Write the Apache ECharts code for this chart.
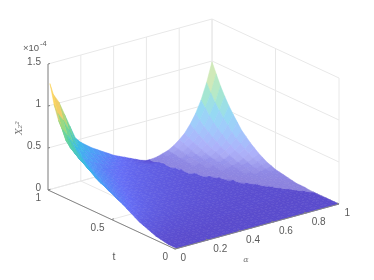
<!DOCTYPE html>
<html><head><meta charset="utf-8">
<style>html,body{margin:0;padding:0;background:#fff}#c{width:374px;height:280px}</style>
<script src="https://cdn.jsdelivr.net/npm/echarts@6/dist/echarts.min.js"></script>
</head><body><div id="c"></div>
<script>
// axis values
const tValues=[0,.033,.067,.1,.133,.167,.2,.233,.267,.3,.333,.367,.4,.433,.467,.5,.533,.567,.6,.633,.667,.7,.733,.767,.8,.833,.867,.9,.933,.967,1];
const alphaValues=[.012,.033,.067,.1,.133,.167,.2,.233,.267,.3,.333,.367,.4,.433,.467,.5,.533,.567,.6,.633,.667,.7,.733,.767,.8,.833,.867,.9,.933,.967,1];
// X values in units of 1e-6, one row per t, one column per alpha
const zRows=[
[0,0,0,0,0,0,0,0,0,0,0,0,0,0,0,0,0,0,0,0,0,0,0,0,0,0,0,0,0,0,0],
[0,0,0,0,0,0,0,0,0,0,0,0,0,0,0,0,0,0,0,0,0,0,0,0,0,0,0,0,0,0,0],
[0,0,0,0,0,0,0,0,0,0,0,0,0,0,0,0,0,0,0,0,0,0,0,0,0,0,0,0,0,0,0],
[1,1,1,1,0,0,0,0,0,0,0,0,0,0,0,0,0,0,0,0,0,0,0,0,0,0,0,0,0,0,0],
[2,2,1,1,1,1,1,1,1,0,0,0,0,0,0,0,0,0,0,0,0,0,0,0,0,0,0,0,0,0,0],
[3,2,2,2,1,1,1,1,1,1,1,1,1,0,0,0,0,0,0,0,0,0,0,0,0,0,0,0,0,0,0],
[5,4,3,3,2,2,2,2,1,1,1,1,1,1,1,1,1,1,1,1,0,0,0,0,0,0,0,0,0,0,0],
[7,6,5,4,3,3,2,2,2,2,2,1,1,1,1,1,1,1,1,1,1,1,1,1,1,0,0,0,0,0,0],
[9,7,6,5,4,4,3,3,2,2,2,2,2,1,1,1,1,1,1,1,1,1,1,1,1,1,1,1,0,0,1],
[11,9,7,6,5,4,4,3,3,3,2,2,2,2,2,2,1,1,1,1,1,1,1,1,1,1,1,1,0,1,1],
[14,11,9,8,7,6,5,4,4,3,3,3,3,2,2,2,2,2,2,1,1,1,1,1,1,1,1,0,1,1,1],
[17,14,11,9,8,7,6,5,5,4,4,3,3,3,3,2,2,2,2,2,2,1,1,1,1,1,1,1,1,1,2],
[20,16,13,11,9,8,7,6,6,5,4,4,4,3,3,3,3,2,2,2,2,2,2,2,1,1,1,1,1,2,3],
[23,19,15,13,11,9,8,7,6,6,5,5,4,4,3,3,3,3,2,2,2,2,2,2,2,2,1,2,2,3,4],
[26,21,17,14,12,11,9,8,7,6,6,5,5,4,4,4,3,3,3,3,2,2,2,2,2,1,2,2,3,4,5],
[29,23,19,16,14,12,10,9,8,7,6,6,5,5,4,4,4,3,3,3,3,3,2,2,1,1,2,3,4,5,6],
[32,26,21,18,15,13,11,10,9,8,7,6,6,5,5,4,4,4,3,3,3,3,3,3,1,2,3,3,5,6,8],
[35,28,23,19,17,14,12,11,10,9,8,7,6,6,5,5,4,4,4,4,3,3,3,1,2,2,3,4,6,8,10],
[38,31,25,21,18,15,13,12,10,9,8,8,7,6,6,5,5,4,4,4,4,3,3,2,2,3,4,6,7,10,13],
[41,33,27,23,19,17,15,13,11,10,9,8,7,7,6,6,5,5,4,4,4,4,2,2,3,4,5,7,9,12,16],
[45,36,30,25,21,18,16,14,12,11,10,9,8,7,7,6,6,5,5,5,4,2,2,2,3,5,6,8,11,15,20],
[49,40,32,27,23,20,17,15,13,12,11,10,9,8,7,7,6,6,5,5,5,2,2,3,4,6,8,10,14,18,24],
[53,43,35,30,25,22,19,16,15,13,12,10,10,9,8,7,7,6,6,5,2,2,2,3,5,7,9,12,16,22,29],
[58,47,38,32,27,24,21,18,16,14,13,11,10,10,9,8,7,7,6,6,2,2,3,4,6,8,11,15,20,26,34],
[62,50,41,35,29,25,22,19,17,15,14,12,11,10,9,8,8,7,7,6,2,3,3,5,7,9,13,17,23,31,41],
[67,54,44,37,32,27,24,21,18,16,15,13,12,11,10,9,8,8,7,3,2,3,4,6,8,11,15,21,28,37,48],
[72,58,48,40,34,29,25,22,20,18,16,14,13,12,11,10,9,8,8,3,2,3,5,7,9,13,18,24,32,43,56],
[78,64,54,46,39,34,29,26,23,20,18,16,14,13,11,10,9,8,7,3,3,4,5,8,11,15,21,28,37,50,65],
[87,76,66,56,47,40,34,30,26,23,20,18,16,14,12,10,8,6,5,3,3,5,6,9,13,17,24,32,43,57,75],
[103,92,82,69,56,46,39,34,30,27,23,20,17,15,13,10,8,5,3,3,4,5,7,10,15,20,28,37,50,66,87],
[126,112,101,85,69,53,46,41,36,32,28,24,20,17,14,11,8,5,3,3,4,6,8,12,17,23,32,43,57,76,99]
];
// alpha of the valley crease for each t row (above 1: no crease in that row)
const creaseAlpha=[1.1,1.1,1.1,1.1,1.1,1.1,.995,.975,.95,.93,.905,.88,.855,.83,.81,.785,.77,.755,.738,.71,.685,.665,.647,.636,.626,.615,.612,.61,.612,.615,.62];
const zTicks=[0,.5,1,1.5], zTickLabels=['0','0.5','1','1.5'];
const tTicks=[0,.5,1], tTickLabels=['0','0.5','1'];
const alphaTicks=[0,.2,.4,.6,.8,1], alphaTickLabels=['0','0.2','0.4','0.6','0.8','1'];
const parula=[[58,40,195],[72,82,244],[46,135,247],[22,172,228],[56,200,152],[130,210,105],[235,195,75],[253,205,60],[249,251,14]];

// oblique 3D view: alpha, t, z (1e-4) to canvas units
function proj(a,t,z){return [175+164*a-127*t, 249-45*a-59*t-84*z];}
function pal(z){const v=Math.min(1,Math.max(0,z/1.26))*(parula.length-1),k=Math.min(parula.length-2,Math.floor(v)),f=v-k;
 return parula[k].map((c,n)=>c+(parula[k+1][n]-c)*f);}
function mix(c,o){return 'rgb('+c.map(x=>Math.round(255+(x-255)*o)).join(',')+')';}

const cells=[];
for(let i=zRows.length-2;i>=0;i--)for(let j=alphaValues.length-2;j>=0;j--)cells.push([i,j]);

const gridCol='#e8e8e8', axisCol='#858585', textCol='#5a5a5a';
const lines=[];
function seg(a,b,col,w){lines.push({a,b,col,w});}
zTicks.forEach(z=>{seg(proj(0,1,z),proj(1,1,z),gridCol,1);seg(proj(1,1,z),proj(1,0,z),gridCol,1);});
alphaTicks.forEach(a=>{seg(proj(a,1,0),proj(a,1,1.5),gridCol,1);seg(proj(a,1,0),proj(a,0,0),gridCol,1);});
tTicks.forEach(t=>{seg(proj(1,t,0),proj(1,t,1.5),gridCol,1);seg(proj(0,t,0),proj(1,t,0),gridCol,1);});
const axisLines=[];
function ax(a,b,w){axisLines.push({a,b,col:axisCol,w:w||1});}
ax(proj(0,1,0),proj(0,1,1.5));ax(proj(0,1,0),proj(0,0,0));ax(proj(0,0,0),proj(1,0,0));
zTicks.forEach(z=>{const p=proj(0,1,z);ax(p,[p[0]+2,p[1]-.5]);});
tTicks.forEach(t=>{const p=proj(0,t,0);ax(p,[p[0]+2.5,p[1]-.7]);});
alphaTicks.forEach(a=>{const p=proj(a,0,0);ax(p,[p[0]-2,p[1]-1]);});

const texts=[];
function label(p,dx,dy,s,extra){texts.push(Object.assign({x:p[0]+dx,y:p[1]+dy,s},extra||{}));}
zTicks.forEach((z,k)=>label(proj(0,1,z),-7,-1.5,zTickLabels[k],{align:'right'}));
tTicks.forEach((t,k)=>label(proj(0,t,0),-7,8.5,tTickLabels[k],{align:'right'}));
alphaTicks.forEach((a,k)=>label(proj(a,0,0),5.5,9,alphaTickLabels[k],{align:'left'}));
label(proj(0,.5,0),2.5,37.5,'t',{align:'center',size:10.5});
label(proj(.5,0,0),-11,33.5,'α',{align:'center',size:8,font:'DejaVu Serif',italic:true,col:'#777'});
label(proj(0,1,1.5),-25,-16,'×10',{align:'left',size:9.5});
label(proj(0,1,1.5),-8,-20.5,'-4',{align:'left',size:7.5});
label([20,128],0,0,'X₂²',{align:'center',size:9,font:'DejaVu Serif',italic:true,rot:Math.PI/2,col:'#777'});

const baseArea=15391/900;
function clipCell(i,j,sign){
 const a0=alphaValues[j],a1=alphaValues[j+1],c0=creaseAlpha[i],c1=creaseAlpha[i+1];
 const f=(u,w)=>sign*((a0+(a1-a0)*u)-(c0+(c1-c0)*w));
 const poly=[[0,0],[1,0],[1,1],[0,1]],out=[];
 poly.forEach((p,n)=>{const q=poly[(n+1)%4],fp=f(p[0],p[1]),fq=f(q[0],q[1]);
  if(fp<=0)out.push(p);
  if(fp*fq<0){const s=fp/(fp-fq);out.push([p[0]+(q[0]-p[0])*s,p[1]+(q[1]-p[1])*s]);}
 });
 return out;
}
function polyPts(i,j,uv,api){
 const z00=zRows[i][j]/100,z10=zRows[i][j+1]/100,z01=zRows[i+1][j]/100,z11=zRows[i+1][j+1]/100;
 const a0=alphaValues[j],a1=alphaValues[j+1],t0=tValues[i],t1=tValues[i+1];
 return uv.map(([u,w])=>api.coord(proj(a0+(a1-a0)*u,t0+(t1-t0)*w,z00*(1-u)*(1-w)+z10*u*(1-w)+z01*(1-u)*w+z11*u*w)));
}
const chart=echarts.init(document.getElementById('c'),null,{renderer:'canvas'});
const lineSeries=(name,arr,z)=>({type:'custom',name,coordinateSystem:'cartesian2d',z,silent:true,animation:false,clip:false,
 data:arr.map((_,n)=>[n]),
 renderItem(p,api){const l=arr[api.value(0)],A=api.coord(l.a),B=api.coord(l.b);
  return{type:'line',shape:{x1:A[0],y1:A[1],x2:B[0],y2:B[1]},style:{stroke:l.col,lineWidth:l.w}};}});
chart.setOption({
 animation:false,
 grid:{left:0,right:0,top:0,bottom:0},
 xAxis:{type:'value',min:0,max:374,show:false},
 yAxis:{type:'value',min:0,max:280,inverse:true,show:false},
 series:[
  lineSeries('grid',lines,1),
  {type:'custom',name:'mesh',coordinateSystem:'cartesian2d',z:2,silent:true,animation:false,clip:false,progressive:0,
   data:cells,
   renderItem(p,api){
    const i=api.value(0),j=api.value(1);
    const whole=polyPts(i,j,[[0,0],[1,0],[1,1],[0,1]],api);
    let A=0;whole.forEach((q,n)=>{const r=whole[(n+1)%4];A+=q[0]*r[1]-r[0]*q[1];});A=Math.abs(A)/2;
    const c=pal((zRows[i][j]+zRows[i][j+1]+zRows[i+1][j]+zRows[i+1][j+1])/400);
    const backDens=Math.max(.45,.58/Math.sqrt(Math.max(1,A/baseArea/1.5)));
    const children=[];
    [[1,.83],[-1,backDens]].forEach(([sign,d])=>{
     const uv=clipCell(i,j,sign);
     if(uv.length>2)children.push({type:'polygon',shape:{points:polyPts(i,j,uv,api)},
       style:{fill:mix(c,d),stroke:mix(c,Math.min(1,d+.03)),lineWidth:.5}});
    });
    return{type:'group',children};
   }},
  lineSeries('axes',axisLines,3),
  {type:'custom',name:'labels',coordinateSystem:'cartesian2d',z:4,silent:true,animation:false,clip:false,
   data:texts.map((_,n)=>[n]),
   renderItem(p,api){const o=texts[api.value(0)],q=api.coord([o.x,o.y]);
    return{type:'text',x:q[0],y:q[1],rotation:o.rot||0,style:{text:o.s,fill:o.col||textCol,align:o.align,verticalAlign:'middle',
     font:(o.italic?'italic ':'')+(o.size||10)+'px "'+(o.font||'Liberation Sans')+'"'}};}}
 ]
});
</script></body></html>
